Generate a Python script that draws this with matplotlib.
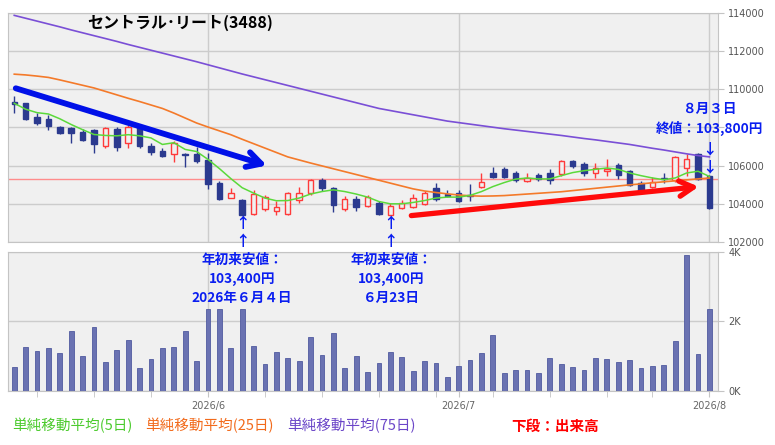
import matplotlib
matplotlib.use('Agg')
import matplotlib.pyplot as plt
import matplotlib.transforms as mtransforms
import pandas as pd

plt.rcParams['font.family'] = ['Noto Sans CJK JP', 'DejaVu Sans']

# trading days shown (2026)
DATES = ['05-07', '05-08', '05-11', '05-12', '05-13', '05-14', '05-15',
         '05-18', '05-19', '05-20', '05-21', '05-22', '05-25', '05-26', '05-27', '05-28', '05-29',
         '06-01', '06-02', '06-03', '06-04', '06-05', '06-08', '06-09', '06-10', '06-11', '06-12',
         '06-15', '06-16', '06-17', '06-18', '06-19', '06-22', '06-23', '06-24', '06-25', '06-26',
         '06-29', '06-30', '07-01', '07-02', '07-03', '07-06', '07-07', '07-08', '07-09', '07-10',
         '07-13', '07-14', '07-15', '07-16', '07-17', '07-21', '07-22', '07-23', '07-24',
         '07-27', '07-28', '07-29', '07-30', '07-31', '08-03']

OPEN = [109350, 109250, 108550, 108450, 108000, 107950, 107750, 107850, 107050, 107900,
        107200, 108000, 107050, 106750, 106600, 106600, 106600, 106300, 105100, 104300,
        104200, 103500, 103750, 103650, 103500, 104200, 104550, 105250, 104850, 103750,
        104250, 103900, 104050, 103400, 103800, 103850, 104000, 104850, 104500, 104550,
        104450, 104900, 105600, 105850, 105600, 105200, 105500, 105600, 105550, 106250,
        106100, 105600, 105700, 106050, 105700, 105100, 104900, 105350, 105250, 105900,
        106600, 105450]
HIGH = [109650, 109300, 108750, 108650, 108050, 108000, 107900, 107900, 108000, 108000,
        108100, 108100, 107200, 106900, 107300, 106650, 107000, 106650, 105200, 104850,
        104250, 104750, 104450, 104150, 104650, 104900, 105300, 105350, 104900, 104400,
        104400, 104450, 104150, 104050, 104200, 104500, 104700, 105100, 104750, 104750,
        105050, 105600, 105950, 105950, 105700, 105600, 105600, 105850, 106300, 106300,
        106200, 106150, 106350, 106150, 105750, 105200, 105400, 105600, 106500, 106600,
        106650, 105500]
LOW = [108750, 108400, 108150, 107850, 107650, 107200, 107300, 106650, 106900, 106750,
       106900, 106900, 106550, 106450, 106200, 105950, 106150, 104800, 104200, 104300,
       103400, 103450, 103650, 103450, 103450, 104050, 104450, 104700, 103600, 103650,
       103650, 103850, 103450, 103400, 103750, 103800, 103950, 104150, 104350, 104100,
       104150, 104850, 105350, 105350, 105150, 105150, 105200, 105050, 105450, 105900,
       105450, 105350, 105450, 105300, 104950, 104650, 104850, 105100, 105150, 105450,
       105250, 103750]
CLOSE = [109200, 108450, 108250, 108050, 107700, 107700, 107350, 107150, 107950, 107000,
         108000, 107050, 106700, 106500, 107200, 106550, 106250, 105050, 104250, 104550,
         103400, 104500, 104350, 103850, 104600, 104550, 105250, 104850, 103950, 104250,
         103850, 104350, 103500, 103900, 104050, 104300, 104600, 104250, 104400, 104150,
         104400, 105150, 105400, 105400, 105250, 105350, 105300, 105250, 106250, 106000,
         105600, 105900, 105850, 105500, 105000, 104700, 105150, 105300, 106450, 106350,
         105300, 103800]
VOLUME = [700, 1270, 1160, 1240, 1100, 1730, 1000, 1840, 840, 1190,
          1470, 670, 930, 1240, 1270, 1730, 870, 2350, 2350, 1240,
          2350, 1290, 780, 1130, 960, 860, 1560, 1030, 1660, 670,
          1000, 550, 800, 1120, 980, 570, 860, 800, 410, 720,
          890, 1090, 1610, 520, 600, 600, 520, 960, 780, 690,
          600, 960, 930, 830, 890, 660, 720, 750, 1440, 3900,
          1060, 2350]

# moving averages
SMA5 = [109260, 108950, 108770, 108700, 108450, 108150, 107880, 107630, 107580, 107560,
        107620, 107560, 107450, 107110, 107200, 106850, 106740, 106330, 105850, 105330,
        104850, 104570, 104310, 104170, 104180, 104310, 104520, 104650, 104740, 104650,
        104520, 104360, 104130, 104010, 104010, 104080, 104180, 104310, 104360, 104360,
        104450, 104650, 104910, 105120, 105300, 105360, 105310, 105310, 105480, 105640,
        105740, 105810, 105880, 105810, 105620, 105480, 105360, 105270, 105360, 105620,
        105710, 105440]
SMA25 = [110780, 110740, 110680, 110610, 110480, 110340, 110200, 110060, 109880, 109700,
         109520, 109350, 109170, 108990, 108750, 108490, 108230, 108020, 107820, 107620,
         107380, 107150, 106920, 106690, 106460, 106300, 106140, 105990, 105840, 105690,
         105540, 105390, 105240, 105090, 104940, 104790, 104680, 104600, 104530, 104470,
         104430, 104410, 104420, 104440, 104480, 104520, 104560, 104600, 104640, 104700,
         104760, 104820, 104880, 104940, 105000, 105050, 105110, 105160, 105210, 105260,
         105310, 105360]
SMA75 = [113850, 113700, 113550, 113400, 113250, 113090, 112940, 112790, 112640, 112490,
         112330, 112180, 112030, 111880, 111730, 111580, 111430, 111270, 111110, 110950,
         110790, 110640, 110490, 110340, 110190, 110040, 109890, 109740, 109590, 109440,
         109290, 109140, 108990, 108880, 108770, 108660, 108550, 108440, 108330, 108250,
         108170, 108090, 108010, 107930, 107860, 107790, 107720, 107650, 107580, 107500,
         107420, 107350, 107270, 107190, 107110, 107010, 106910, 106820, 106720, 106620,
         106530, 106460]

PREV_CLOSE = 105300
PRICE_TICKS = [102000, 104000, 106000, 108000, 110000, 112000, 114000]
VOL_TICKS = [0, 2000, 4000]
VOL_LABELS = ['0K', '2K', '4K']

BLUE = '#2B3A8F'
RED = '#FF3A3A'
BG = '#F0F0F0'
GRID = '#CCCCCC'
ANN = '#0A1EF0'

dates = pd.to_datetime(['2026-' + d for d in DATES])
x = list(range(len(dates)))
month_idx = [i for i in x if i == 0 or dates[i].month != dates[i - 1].month][1:]
month_lbl = ['%d/%d' % (dates[i].year, dates[i].month) for i in month_idx]
week_idx = [i for i in x if i > 0 and dates[i].isocalendar().week != dates[i - 1].isocalendar().week]

fig = plt.figure(figsize=(7.75, 4.45), dpi=100)
ax1 = fig.add_axes([0.0103, 0.4555, 0.9161, 0.5164])
ax2 = fig.add_axes([0.0103, 0.1213, 0.9161, 0.313])

for ax in (ax1, ax2):
    ax.set_facecolor(BG)
    ax.set_axisbelow(True)
    ax.grid(True, color=GRID, linewidth=1)
    for s in ax.spines.values():
        s.set_color('#C4C4C4')
    ax.yaxis.tick_right()
    ax.tick_params(axis='y', labelsize=7, colors='#C4C4C4', labelcolor='#555555', length=4)
    ax.set_xlim(-0.55, len(x) - 0.25)

# candles
for i in x:
    o, h, l, c = OPEN[i], HIGH[i], LOW[i], CLOSE[i]
    up = c > o
    col = RED if up else BLUE
    ax1.vlines(i, l, h, color=col, linewidth=1, zorder=3)
    body = max(abs(c - o), 25)
    ax1.bar(i, body, bottom=min(o, c), width=0.48,
            facecolor=BG if up else BLUE, edgecolor=col, linewidth=1, zorder=4)

ax1.axhline(PREV_CLOSE, color='#FF8C8C', linewidth=1, zorder=2)
ax1.plot(x, SMA75, color='#7A4FD6', linewidth=1.2, zorder=5)
ax1.plot(x, SMA25, color='#F47A2A', linewidth=1.2, zorder=5)
ax1.plot(x, SMA5, color='#5BD93B', linewidth=1.1, zorder=5)

ax1.set_ylim(102000, 114000)
ax1.set_yticks(PRICE_TICKS)
ax1.set_yticklabels(['' if t == 108000 else str(t) for t in PRICE_TICKS], family='DejaVu Sans')
ax1.set_xticks(month_idx)
ax1.set_xticklabels([])
ax1.tick_params(axis='x', length=0)

# trend arrows
ax1.annotate('', xy=(22.4, 105970), xytext=(-0.1, 110085),
             arrowprops=dict(arrowstyle='->, head_length=1.0, head_width=0.55',
                             color='#0010E8', lw=4.2), zorder=6)
ax1.annotate('', xy=(60.3, 104920), xytext=(34.6, 103380),
             arrowprops=dict(arrowstyle='->, head_length=1.0, head_width=0.55',
                             color='#FF0A0A', lw=3.8), zorder=6)

# volume
ax2.bar(x, VOLUME, width=0.42, color='#6A72B2', edgecolor='#515BA0', linewidth=0.6, zorder=3)
ax2.set_ylim(0, 4000)
ax2.set_yticks(VOL_TICKS)
ax2.set_yticklabels(VOL_LABELS, family='DejaVu Sans')
ax2.set_xticks(month_idx)
ax2.set_xticklabels(month_lbl, family='DejaVu Sans')
ax2.set_xticks(week_idx, minor=True)
ax2.tick_params(axis='x', which='both', length=4, colors='#C4C4C4', labelcolor='#666666',
                labelsize=7, pad=3)
ax2.grid(True, which='major', color=GRID, linewidth=1)

# texts
def fy(px):
    return 1 - px / 445.0

fig.text(87 / 775, fy(23), 'セントラル･リート(3488)', fontsize=11.5, fontweight='bold',
         color='black', va='center', ha='left')

tr = mtransforms.blended_transform_factory(ax1.transData, fig.transFigure)
akw = dict(transform=tr, ha='center', va='center', color=ANN, fontweight='bold', fontsize=9.8)
arw = dict(transform=tr, ha='center', va='center', color=ANN, fontsize=10.5, fontweight='bold')
for xi, lines in ((20, ['年初来安値：', '103,400円', '2026年６月４日']),
                  (33.1, ['年初来安値：', '103,400円', '６月23日'])):
    for k, s in enumerate(lines):
        fig.text(xi, fy(260 + 19 * k), s, **akw)
    for yy in (223, 241):
        fig.text(round(xi), fy(yy), '↑', **arw)

fig.text(61, fy(109), '８月３日', **akw)
fig.text(61, fy(128), '終値：103,800円', **akw)
for yy in (149, 167):
    fig.text(61, fy(yy), '↓', **arw)

lkw = dict(fontsize=10.5, va='center', ha='left')
fig.text(12 / 775, fy(426), '単純移動平均(5日)', color='#4CCB2E', **lkw)
fig.text(145 / 775, fy(426), '単純移動平均(25日)', color='#F26A1B', **lkw)
fig.text(287 / 775, fy(426), '単純移動平均(75日)', color='#6B46C8', **lkw)
fig.text(511 / 775, fy(426), '下段：出来高', color='#FF0000', fontweight='bold', **lkw)

fig.savefig('out.png', dpi=100)
